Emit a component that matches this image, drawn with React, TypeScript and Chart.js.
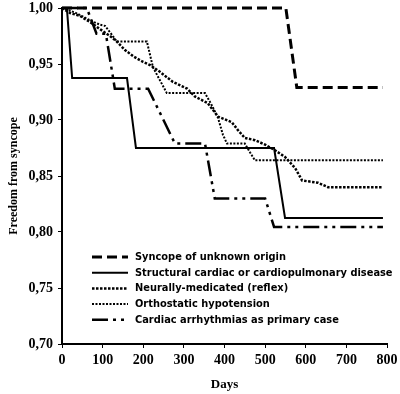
import React, { useEffect, useRef } from "react";
import { Chart, registerables } from "chart.js";

Chart.register(...registerables);

const seriesNames = [
  "Syncope of unknown origin",
  "Structural cardiac or cardiopulmonary disease",
  "Neurally-medicated (reflex)",
  "Orthostatic hypotension",
  "Cardiac arrhythmias as primary case",
];

const unknownDays = [0, 551, 578, 790];
const unknownFree = [1.0, 1.0, 0.929, 0.929];

const structuralDays = [0, 12, 25, 160, 182, 522, 549, 790];
const structuralFree = [1.0, 1.0, 0.9375, 0.9375, 0.875, 0.875, 0.8125, 0.8125];

const neurallyDays = [0, 20, 44, 69, 94, 118, 135, 155, 175, 199, 217, 241, 273, 308, 327, 359, 384, 418, 433, 450, 475, 500, 524, 549, 574, 591, 610, 630, 655, 790];
const neurallyFree = [1.0, 0.9955, 0.993, 0.9875, 0.981, 0.975, 0.97, 0.9625, 0.957, 0.952, 0.949, 0.943, 0.934, 0.928, 0.921, 0.915, 0.903, 0.898, 0.891, 0.884, 0.882, 0.878, 0.873, 0.867, 0.857, 0.846, 0.845, 0.844, 0.84, 0.84];

const orthostaticDays = [0, 32, 69, 94, 106, 123, 135, 209, 224, 258, 352, 369, 384, 396, 406, 450, 463, 475, 790];
const orthostaticFree = [1.0, 0.996, 0.989, 0.985, 0.984, 0.976, 0.97, 0.97, 0.947, 0.924, 0.924, 0.913, 0.902, 0.887, 0.879, 0.879, 0.871, 0.864, 0.864];

const arrhythmiaDays = [0, 61, 85, 108, 130, 212, 278, 352, 376, 500, 522, 790];
const arrhythmiaFree = [1.0, 1.0, 0.977, 0.977, 0.928, 0.928, 0.879, 0.879, 0.83, 0.83, 0.8045, 0.8045];

const xTicks = [0, 100, 200, 300, 400, 500, 600, 700, 800];
const yTicks = [0.7, 0.75, 0.8, 0.85, 0.9, 0.95, 1.0];

const toPoints = (xs: number[], ys: number[]) => xs.map((x, i) => ({ x, y: ys[i] }));

const serifFont = '"Liberation Serif", "Times New Roman", serif';
const legendFamily = '"DejaVu Sans Condensed", "DejaVu Sans", sans-serif';

const insideLegend = {
  id: "insideLegend",
  afterDraw(chart: any) {
    const ctx = chart.ctx as CanvasRenderingContext2D;
    ctx.save();
    let size = 11;
    ctx.font = `bold ${size}px ${legendFamily}`;
    let maxW = 0;
    chart.data.datasets.forEach((d: any) => {
      maxW = Math.max(maxW, ctx.measureText(d.label).width);
    });
    if (maxW > 0) size = Math.max(8, Math.min(12, (size * 258) / maxW));
    ctx.font = `bold ${size}px ${legendFamily}`;
    chart.data.datasets.forEach((d: any, i: number) => {
      const y = 257 + i * 15.7;
      ctx.strokeStyle = "#000";
      ctx.lineWidth = d.borderWidth;
      ctx.setLineDash(d.borderDash || []);
      ctx.beginPath();
      ctx.moveTo(92, y);
      ctx.lineTo(128, y);
      ctx.stroke();
      ctx.setLineDash([]);
      ctx.fillStyle = "#000";
      ctx.textBaseline = "middle";
      ctx.textAlign = "left";
      ctx.fillText(d.label, 135, y);
    });
    ctx.restore();
  },
};

export default function App() {
  const ref = useRef<HTMLCanvasElement | null>(null);

  useEffect(() => {
    if (!ref.current) return;
    const common = { borderColor: "#000", backgroundColor: "#000", pointRadius: 0, tension: 0, fill: false, clip: 6 };
    const chart = new Chart(ref.current, {
      type: "line",
      data: {
        datasets: [
          { ...common, label: seriesNames[0], data: toPoints(unknownDays, unknownFree), borderWidth: 3, borderDash: [10, 5] },
          { ...common, label: seriesNames[1], data: toPoints(structuralDays, structuralFree), borderWidth: 2, borderDash: [] },
          { ...common, label: seriesNames[2], data: toPoints(neurallyDays, neurallyFree), borderWidth: 2.5, borderDash: [2.5, 1.5] },
          { ...common, label: seriesNames[3], data: toPoints(orthostaticDays, orthostaticFree), borderWidth: 2, borderDash: [2, 1.5] },
          { ...common, label: seriesNames[4], data: toPoints(arrhythmiaDays, arrhythmiaFree), borderWidth: 2.5, borderDash: [16, 5, 3, 5, 3, 5] },
        ],
      },
      options: {
        animation: false,
        responsive: false,
        layout: { padding: { top: 8, right: 13, left: 0, bottom: 0 } },
        plugins: { legend: { display: false }, tooltip: { enabled: false } },
        scales: {
          x: {
            type: "linear",
            min: 0,
            max: 800,
            afterFit: (s: any) => { s.height = 50; s.paddingLeft = 0; s.paddingRight = 0; },
            afterBuildTicks: (s: any) => { s.ticks = xTicks.map((v) => ({ value: v })); },
            ticks: { color: "#000", font: { family: serifFont, size: 14, weight: "bold" }, padding: 4, maxRotation: 0 },
            grid: { display: true, drawOnChartArea: false, drawTicks: true, tickLength: 4, color: "#000", lineWidth: 1 },
            border: { display: true, color: "#000", width: 2 },
            title: { display: true, text: "Days", color: "#000", font: { family: serifFont, size: 13, weight: "bold" }, padding: { top: 0, bottom: 2 } },
          },
          y: {
            type: "linear",
            min: 0.7,
            max: 1.0,
            afterFit: (s: any) => { s.width = 62; s.paddingTop = 0; s.paddingBottom = 0; },
            afterBuildTicks: (s: any) => { s.ticks = yTicks.map((v) => ({ value: v })); },
            ticks: {
              color: "#000",
              font: { family: serifFont, size: 14, weight: "bold" },
              padding: 5,
              callback: (v: any) => Number(v).toFixed(2).replace(".", ","),
            },
            grid: { display: true, drawOnChartArea: false, drawTicks: true, tickLength: 4, color: "#000", lineWidth: 1 },
            border: { display: true, color: "#000", width: 2 },
            title: { display: true, text: "Freedom from syncope", color: "#000", font: { family: serifFont, size: 12, weight: "bold" }, padding: { top: 7, bottom: 0 } },
          },
        },
      },
      plugins: [insideLegend],
    } as any);
    return () => chart.destroy();
  }, []);

  return (
    <div style={{ position: "fixed", left: 0, top: 0, width: 400, height: 394, background: "#fff" }}>
      <canvas ref={ref} width={400} height={394} />
    </div>
  );
}
